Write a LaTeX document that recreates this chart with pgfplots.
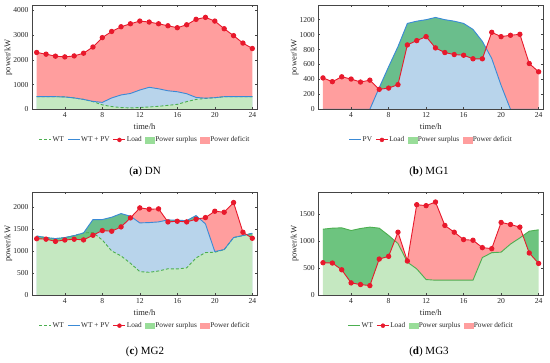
\documentclass[border=0pt]{standalone}
\usepackage{fontspec}
\setmainfont{Liberation Serif}
\usepackage{pgfplots}
\usepackage{pgfplotstable}
\pgfplotsset{compat=1.18}
\usepgfplotslibrary{fillbetween}

\definecolor{cred}{HTML}{E8192C}
\definecolor{cblue}{HTML}{3A8AD6}
\definecolor{cgreen}{HTML}{4CAF50}
\definecolor{fred}{HTML}{FF9E9E}
\definecolor{fgreen}{HTML}{C5E8C1}
\definecolor{fblue}{HTML}{B8D4EB}
\definecolor{fsur}{RGB}{73,181,100}
\definecolor{lsur}{HTML}{99DD99}
\definecolor{axgray}{HTML}{454545}

\pgfplotstableread{
h wt wtpv load
1 510 510 2300
2 510 510 2230
3 510 510 2150
4 500 500 2120
5 460 460 2160
6 400 400 2270
7 310 320 2520
8 180 280 2900
9 110 460 3150
10 70 580 3340
11 55 640 3460
12 70 780 3570
13 95 890 3530
14 120 830 3460
15 160 750 3380
16 200 710 3300
17 310 630 3420
18 400 480 3640
19 440 450 3720
20 470 470 3570
21 510 510 3260
22 510 510 2980
23 510 510 2680
24 510 510 2460
}\dataA

\pgfplotstableread{
h pv load
1 0 420
2 0 370
3 0 435
4 0 405
5 0 365
6 0 390
7 290 267
8 570 284
9 840 330
10 1150 862
11 1180 920
12 1200 973
13 1230 822
14 1200 760
15 1180 733
16 1150 724
17 1070 676
18 910 676
19 680 1031
20 320 973
21 0 991
22 0 1004
23 0 613
24 0 502
}\dataB

\pgfplotstableread{
h wt wtpv load
1 1340 1340 1280
2 1305 1305 1270
3 1283 1283 1220
4 1305 1305 1250
5 1350 1350 1268
6 1411 1411 1253
7 1420 1713 1358
8 1250 1713 1464
9 1004 1766 1449
10 890 1849 1547
11 725 1789 1751
12 536 1638 1977
13 520 1645 1947
14 550 1660 1955
15 600 1706 1660
16 596 1698 1675
17 620 1690 1660
18 845 1804 1721
19 966 1615 1758
20 975 989 1902
21 1034 1034 1879
22 1306 1306 2098
23 1351 1351 1426
24 1404 1404 1290
}\dataC

\pgfplotstableread{
h wt load
1 1226 604
2 1245 598
3 1251 473
4 1201 230
5 1239 199
6 1264 180
7 1245 672
8 1110 722
9 960 1170
10 615 635
11 490 1680
12 292 1662
13 280 1730
14 280 1295
15 280 1170
16 280 1033
17 280 1021
18 700 884
19 790 865
20 800 1351
21 950 1313
22 1064 1264
23 1189 784
24 1214 591
}\dataD

\pgfplotstableread{
h z
1 0
24 0
}\zero

\pgfplotsset{
  legsur/.style={legend image code/.code={\fill[lsur] (0pt,-2.8pt) rectangle (9pt,2.8pt);}},
  legdef/.style={legend image code/.code={\fill[fred] (0pt,-2.8pt) rectangle (9pt,2.8pt);}},
  legblue/.style={legend image code/.code={\draw[cblue, line width=1.1pt] (0pt,0pt) -- (12pt,0pt);}},
  leggreen/.style={legend image code/.code={\draw[cgreen, line width=1.1pt] (0pt,0pt) -- (12pt,0pt);}},
  legdash/.style={legend image code/.code={\draw[cgreen, line width=1.1pt, dash pattern=on 3pt off 2pt] (0pt,0pt) -- (12pt,0pt);}},
  legload/.style={legend image code/.code={\draw[cred, line width=1.1pt] (0pt,0pt) -- (12pt,0pt); \fill[cred] (6pt,0pt) circle (2pt);}},
  loadline/.style={cred, line width=0.9pt, mark=*, mark size=2.2pt, mark options={fill=cred, draw=cred, solid}},
  wtdash/.style={cgreen, line width=0.9pt, dash pattern=on 3pt off 2pt},
  base/.style={
    width=225pt, scale only axis,
    xmin=0.5, xmax=24.5, ymin=0,
    xtick={4,8,...,24},
    tick align=inside,
    major tick length=2pt,
    axis line style={axgray, line width=0.5pt},
    every tick/.style={axgray, line width=0.4pt},
    tick label style={font=\fontsize{7.6}{8}\selectfont, text=black!85},
    label style={font=\fontsize{8.5}{9}\selectfont, text=black!85},
    /pgf/number format/assume math mode=true,
    /pgf/number format/1000 sep={},
    xlabel={time/h}, ylabel={power/kW},
    xlabel style={at={(axis description cs:0.5,-0.165)}, anchor=center},
    ylabel style={at={(axis description cs:-0.105,0.5)}, anchor=center},
    axis on top,
    anchor=south west,
    legend style={draw=none, fill=none, font=\fontsize{7.3}{8}\selectfont,
      text=black!85,
      at={(0.5,-0.295)}, anchor=center,
      /tikz/every even column/.append style={column sep=2.5pt},
      nodes={inner sep=0.8pt}},
    legend columns=-1,
  },
}

\begin{document}
\begin{tikzpicture}

% ---------------- (a) DN
\begin{axis}[base, at={(32pt,253.7pt)}, height=103.8pt, ymax=4200, ytick={0,1000,...,4000}]
\addlegendimage{legdash}
\addlegendentry{WT}
\addlegendimage{legblue}
\addlegendentry{WT + PV}
\addlegendimage{legload}
\addlegendentry{Load}
\addlegendimage{legsur}
\addlegendentry{Power surplus}
\addlegendimage{legdef}
\addlegendentry{Power deficit}
\addplot[draw=none, name path=zA, forget plot] table[x=h,y=z] {\zero};
\addplot[draw=none, name path=ldA, forget plot] table[x=h,y=load] {\dataA};
\addplot[draw=none, name path=gpA, forget plot] table[x=h,y=wtpv] {\dataA};
\addplot[draw=none, name path=wA, forget plot] table[x=h,y=wt] {\dataA};
\addplot[fill=fblue, draw=none, forget plot] fill between[of=gpA and zA];
\addplot[fill=fgreen, draw=none, forget plot] fill between[of=wA and zA];
\addplot[fill=fred, draw=none, forget plot] fill between[of=ldA and gpA];
\addplot[wtdash, forget plot] table[x=h,y=wt] {\dataA};
\addplot[cblue, line width=0.9pt, forget plot] table[x=h,y=wtpv] {\dataA};
\addplot[loadline, forget plot] table[x=h,y=load] {\dataA};
\end{axis}

% ---------------- (b) MG1
\begin{axis}[base, at={(318.3pt,253.7pt)}, height=103.8pt, ymax=1390, ytick={0,200,...,1200}]
\addlegendimage{legblue}
\addlegendentry{PV}
\addlegendimage{legload}
\addlegendentry{Load}
\addlegendimage{legsur}
\addlegendentry{Power surplus}
\addlegendimage{legdef}
\addlegendentry{Power deficit}
\addplot[draw=none, name path=zB, forget plot] table[x=h,y=z] {\zero};
\addplot[draw=none, name path=ldB, forget plot] table[x=h,y=load] {\dataB};
\addplot[draw=none, name path=gpB, forget plot] table[x=h,y=pv] {\dataB};
\addplot[fill=fblue, draw=none, forget plot] fill between[of=gpB and zB];
\addplot[draw=none, forget plot] fill between[of=ldB and gpB, split,
   every even segment/.style={fill=fred},
   every odd segment/.style={fill=fsur, fill opacity=0.7}];
\addplot[cblue, line width=0.9pt, forget plot] table[x=h,y=pv] {\dataB};
\addplot[loadline, forget plot] table[x=h,y=load] {\dataB};
\end{axis}

% ---------------- (c) MG2
\begin{axis}[base, at={(32pt,67.7pt)}, height=103pt, ymax=2330, ytick={0,500,...,2000}]
\addlegendimage{legdash}
\addlegendentry{WT}
\addlegendimage{legblue}
\addlegendentry{WT + PV}
\addlegendimage{legload}
\addlegendentry{Load}
\addlegendimage{legsur}
\addlegendentry{Power surplus}
\addlegendimage{legdef}
\addlegendentry{Power deficit}
\addplot[draw=none, name path=zC, forget plot] table[x=h,y=z] {\zero};
\addplot[draw=none, name path=ldC, forget plot] table[x=h,y=load] {\dataC};
\addplot[draw=none, name path=gpC, forget plot] table[x=h,y=wtpv] {\dataC};
\addplot[draw=none, name path=wC, forget plot] table[x=h,y=wt] {\dataC};
\addplot[fill=fblue, draw=none, forget plot] fill between[of=gpC and zC];
\addplot[fill=fgreen, draw=none, forget plot] fill between[of=wC and zC];
\addplot[draw=none, forget plot] fill between[of=ldC and gpC, split,
   every even segment/.style={fill=fsur, fill opacity=0.7},
   every odd segment/.style={fill=fred}];
\addplot[wtdash, forget plot] table[x=h,y=wt] {\dataC};
\addplot[cblue, line width=0.9pt, forget plot] table[x=h,y=wtpv] {\dataC};
\addplot[loadline, forget plot] table[x=h,y=load] {\dataC};
\end{axis}

% ---------------- (d) MG3
\begin{axis}[base, at={(318.3pt,67.7pt)}, height=103pt, ymax=1910, ytick={0,500,...,1500}]
\addlegendimage{leggreen}
\addlegendentry{WT}
\addlegendimage{legload}
\addlegendentry{Load}
\addlegendimage{legsur}
\addlegendentry{Power surplus}
\addlegendimage{legdef}
\addlegendentry{Power deficit}
\addplot[draw=none, name path=zD, forget plot] table[x=h,y=z] {\zero};
\addplot[draw=none, name path=ldD, forget plot] table[x=h,y=load] {\dataD};
\addplot[draw=none, name path=gpD, forget plot] table[x=h,y=wt] {\dataD};
\addplot[fill=fgreen, draw=none, forget plot] fill between[of=gpD and zD];
\addplot[draw=none, forget plot] fill between[of=ldD and gpD, split,
   every even segment/.style={fill=fsur, fill opacity=0.7},
   every odd segment/.style={fill=fred}];
\addplot[cgreen, line width=0.9pt, forget plot] table[x=h,y=wt] {\dataD};
\addplot[loadline, forget plot] table[x=h,y=load] {\dataD};
\end{axis}

% captions
\node[font=\fontsize{11}{12}\selectfont] at (145pt,190.7pt) {(\textbf{a}) DN};
\node[font=\fontsize{11}{12}\selectfont] at (429pt,190.7pt) {(\textbf{b}) MG1};
\node[font=\fontsize{11}{12}\selectfont] at (145pt,10.7pt) {(\textbf{c}) MG2};
\node[font=\fontsize{11}{12}\selectfont] at (429pt,10.7pt) {(\textbf{d}) MG3};

\pgfresetboundingbox
\useasboundingbox (0,0) rectangle (550pt,363pt);
\end{tikzpicture}
\end{document}
